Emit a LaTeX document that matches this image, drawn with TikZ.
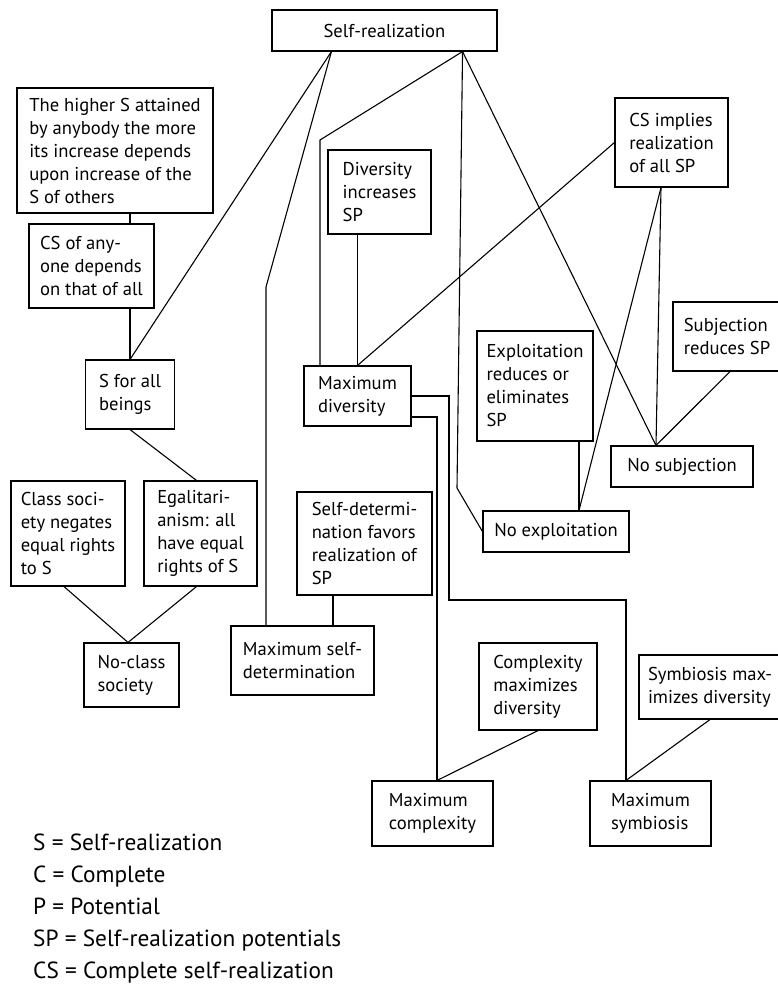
\documentclass[tikz,border=0pt]{standalone}
\usepackage{fontspec}
\setmainfont{PT Sans}
\usepackage{tikz}
\usetikzlibrary{positioning}

\begin{document}
\begin{tikzpicture}[x=1pt, y=-1pt,
    box/.style={draw, line width=1.1pt, align=left, inner sep=0pt, font=\fontsize{18.6}{23}\selectfont},
    conn/.style={line width=1.1pt},
    legend/.style={align=left, inner sep=0pt, font=\fontsize{23.3}{32}\selectfont}]
    \useasboundingbox (0,0) rectangle (778,990);

    % Top
    \node[box, minimum width=225, minimum height=41] (sr) at (384.5,30.5) {Self-realization};

    % Left column
    \node[box, minimum width=196, minimum height=125] (higher) at (115,150.5) {The higher S attained\\by anybody the more\\its increase depends\\upon increase of the\\S of others};
    \node[box, minimum width=125, minimum height=84] (csany) at (91.5,266) {CS of any-\\one depends\\on that of all};
    \node[box, minimum width=89, minimum height=69] (beings) at (130,394.5) {S for all\\beings};
    \node[box, minimum width=114, minimum height=105] (classs) at (68,533.5) {Class soci-\\ety negates\\equal rights\\to S};
    \node[box, minimum width=113, minimum height=105] (egal) at (200.5,533.5) {Egalitari-\\anism: all\\have equal\\rights of S};
    \node[box, minimum width=95, minimum height=64] (noclass) at (131.5,675) {No-class\\society};

    % Middle
    \node[box, minimum width=103, minimum height=84] (divsp) at (379.5,192) {Diversity\\increases\\SP};
    \node[box, minimum width=107, minimum height=60] (maxdiv) at (357.5,396) {Maximum\\diversity};
    \node[box, minimum width=135, minimum height=103] (selfdet) at (364.5,543.5) {Self-determi-\\nation favors\\realization of\\SP};
    \node[box, minimum width=143, minimum height=69] (maxsd) at (302.5,660.5) {Maximum self-\\determination};
    \node[box, minimum width=118, minimum height=87] (cplxdiv) at (538,686.5) {Complexity\\maximizes\\diversity};
    \node[box, minimum width=121, minimum height=65] (maxcplx) at (432.5,813.5) {Maximum\\complexity};

    % Right
    \node[box, minimum width=113, minimum height=89] (csimp) at (671.5,142.5) {CS implies\\realization\\of all SP};
    \node[box, minimum width=116, minimum height=110] (exploit) at (535,386) {Exploitation\\reduces or\\eliminates\\SP};
    \node[box, minimum width=108, minimum height=69] (subj) at (727,336.5) {Subjection\\reduces SP};
    \node[box, minimum width=142, minimum height=41] (nosubj) at (682,466.5) {No subjection};
    \node[box, minimum width=146, minimum height=41] (noexpl) at (556,531.5) {No exploitation};
    \node[box, minimum width=142, minimum height=64] (symdiv) at (710,687) {Symbiosis max-\\imizes diversity};
    \node[box, minimum width=121, minimum height=65] (maxsym) at (650.5,813.5) {Maximum\\symbiosis};

    % Bends and joins
    \coordinate (bendsd) at (266,287);
    \coordinate (benddiv) at (320,140);
    \coordinate (bendex) at (457,488);
    \coordinate (bendsym) at (449,600);
    \coordinate (nsj) at ([xshift=-26]nosubj.north);
    \coordinate (exj) at ([xshift=23]noexpl.north);
    \coordinate (ncj) at ([xshift=-3.5]noclass.north);

    % Lines from self-realization
    \draw[conn] ([xshift=60]sr.south west) -- (beings.north);
    \draw[conn] ([xshift=60]sr.south west) -- (bendsd) -- (bendsd |- maxsd.north);
    \draw[conn] ([xshift=-35]sr.south east) -- (benddiv) -- (benddiv |- maxdiv.north);
    \draw[conn] ([xshift=-35]sr.south east) -- (bendex) -- (noexpl.west);
    \draw[conn] ([xshift=-35]sr.south east) -- (nsj);

    % Left column
    \draw[conn] (higher.south -| beings.north) -- (csany.north -| beings.north);
    \draw[conn] (csany.south -| beings.north) -- (beings.north);
    \draw[conn] (beings.south) -- ([xshift=-4]egal.north);
    \draw[conn] ([xshift=-4]classs.south) -- (ncj);
    \draw[conn] ([xshift=-4]egal.south) -- (ncj);

    % Diversity
    \draw[conn] (divsp.south -| maxdiv.north) -- (maxdiv.north);
    \draw[conn] (csimp.west) -- (maxdiv.north);
    \draw[conn] (maxdiv.east) -| (bendsym) -| ([xshift=-24.5]maxsym.north);
    \draw[conn] ([yshift=-21]maxdiv.east) -| ([xshift=4.5]maxcplx.north);
    \draw[conn] (cplxdiv.south) -- ([xshift=4.5]maxcplx.north);
    \draw[conn] (symdiv.south) -- ([xshift=-24.5]maxsym.north);
    \draw[conn] ([xshift=-31.5]selfdet.south) -- ([xshift=30.5]maxsd.north);

    % Exploitation and subjection
    \draw[conn] (exploit.south -| exj) -- (exj);
    \draw[conn] ([xshift=-10.5]csimp.south) -- (exj);
    \draw[conn] ([xshift=-10.5]csimp.south) -- (nsj);
    \draw[conn] ([xshift=3]subj.south) -- (nsj);

    % Key
    \node[legend, anchor=north west] (key) at (33,834) {S = Self-realization\\C = Complete\\P = Potential\\SP = Self-realization potentials\\CS = Complete self-realization};
\end{tikzpicture}
\end{document}
